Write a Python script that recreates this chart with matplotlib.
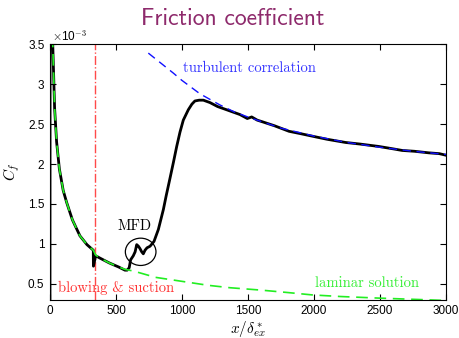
import numpy as np
from matplotlib import pyplot as plt
from matplotlib.patches import Ellipse

plt.rcParams['mathtext.fontset'] = 'cm'
plt.rcParams['font.family'] = 'Liberation Sans'

# Cf in units of 1e-3
dns_x = [0, 2, 10, 20, 35, 50, 71, 100, 126, 170, 227, 280, 328, 329, 332, 346,
         380, 450, 520, 568, 585, 600, 611, 631, 645, 657, 670, 682, 695, 707,
         720, 735, 758, 788, 821, 859, 880, 909, 935, 960, 985, 1010, 1048,
         1075, 1098, 1130, 1162, 1212, 1270, 1338, 1439, 1495, 1528, 1570,
         1608, 1700, 1811, 1900, 2013, 2100, 2240, 2350, 2492, 2600, 2669,
         2760, 2871, 2950, 3000]
dns_cf = [0.3, 8.0, 5.0, 3.55, 2.7, 2.28, 1.94, 1.67, 1.52, 1.30, 1.10, 0.99,
          0.92, 0.72, 0.74, 0.85, 0.82, 0.76, 0.71, 0.67, 0.67, 0.70, 0.80,
          0.85, 0.90, 0.99, 0.97, 0.94, 0.90, 0.875, 0.92, 0.95, 0.97, 1.03,
          1.18, 1.43, 1.60, 1.82, 2.02, 2.22, 2.40, 2.55, 2.68, 2.75, 2.79,
          2.80, 2.80, 2.77, 2.72, 2.68, 2.62, 2.57, 2.59, 2.55, 2.53, 2.48,
          2.41, 2.38, 2.34, 2.31, 2.27, 2.25, 2.22, 2.19, 2.17, 2.16, 2.14,
          2.13, 2.11]

lam_x = [10, 20, 35, 50, 71, 100, 126, 170, 227, 280, 328, 346, 380, 450, 520,
         568, 631, 800, 1000, 1200, 1364, 1600, 1800, 1987, 2200, 2492, 2750, 3000]
lam_cf = [5.0, 3.55, 2.7, 2.28, 1.94, 1.67, 1.52, 1.30, 1.10, 0.99, 0.92, 0.86,
          0.82, 0.76, 0.71, 0.68, 0.66, 0.58, 0.53, 0.48, 0.45, 0.42, 0.39,
          0.36, 0.34, 0.32, 0.305, 0.29]

turb_x = [745, 934, 998, 1136, 1288, 1400, 1515, 1750, 2000, 2250, 2500, 2750, 3000]
turb_cf = [3.39, 3.14, 3.05, 2.88, 2.74, 2.65, 2.58, 2.45, 2.35, 2.27, 2.21, 2.16, 2.12]

x_blow = 340
mfd_center = (687, 0.90)

fig = plt.figure(figsize=(4.59, 3.38), dpi=100)
ax = fig.add_axes([0.1089, 0.1133, 0.8627, 0.7556])

ax.axvline(x_blow, color='#ff4a4a', lw=1.0, ls='-.')
ax.plot(dns_x, dns_cf, color='black', lw=2.0)
ax.plot(lam_x, lam_cf, color='#22ee22', lw=1.2, ls=(0, (7, 4)))
ax.plot(turb_x, turb_cf, color='#1010ff', lw=1.0, ls=(0, (6, 4)))

ax.add_patch(Ellipse(mfd_center, 232, 0.342, fill=False, color='black', lw=0.9))
ax.text(638, 1.217, 'MFD', family='cmr10', fontsize=10.5, ha='center', va='center')
ax.text(62, 0.45, 'blowing & suction', family='cmr10', color='#ff3333',
        fontsize=10.5, ha='left', va='center')
ax.text(2008, 0.51, 'laminar solution', family='cmr10', color='#33ee33',
        fontsize=10.5, ha='left', va='center')
ax.text(1010, 3.20, 'turbulent correlation', family='cmr10', color='#3333ff',
        fontsize=10.5, ha='left', va='center')

ax.set_xlim(0, 3000)
ax.set_ylim(0.3, 3.5)
ax.set_xticks(np.arange(0, 3001, 500))
ax.set_yticks([0.5, 1, 1.5, 2, 2.5, 3, 3.5])
ax.set_yticklabels(['0.5', '1', '1.5', '2', '2.5', '3', '3.5'])
ax.tick_params(direction='in', length=4, width=0.8, top=True, right=True,
               labelsize=8.5, pad=4)
for s in ax.spines.values():
    s.set_linewidth(0.8)

ax.text(0.005, 1.004, r'$\times$10$^{-3}$', transform=ax.transAxes,
        fontsize=8.5, ha='left', va='bottom')
ax.set_ylabel(r'$C_f$', fontsize=11, labelpad=4)
ax.set_xlabel(r'$x/\delta^*_{ex}$', fontsize=11, labelpad=1)

fig.text(0.507, 0.945, 'Friction coefficient', family='cmss10', color='#8e2a6c',
         fontsize=17, ha='center', va='center')

fig.savefig('out.png', dpi=100)
